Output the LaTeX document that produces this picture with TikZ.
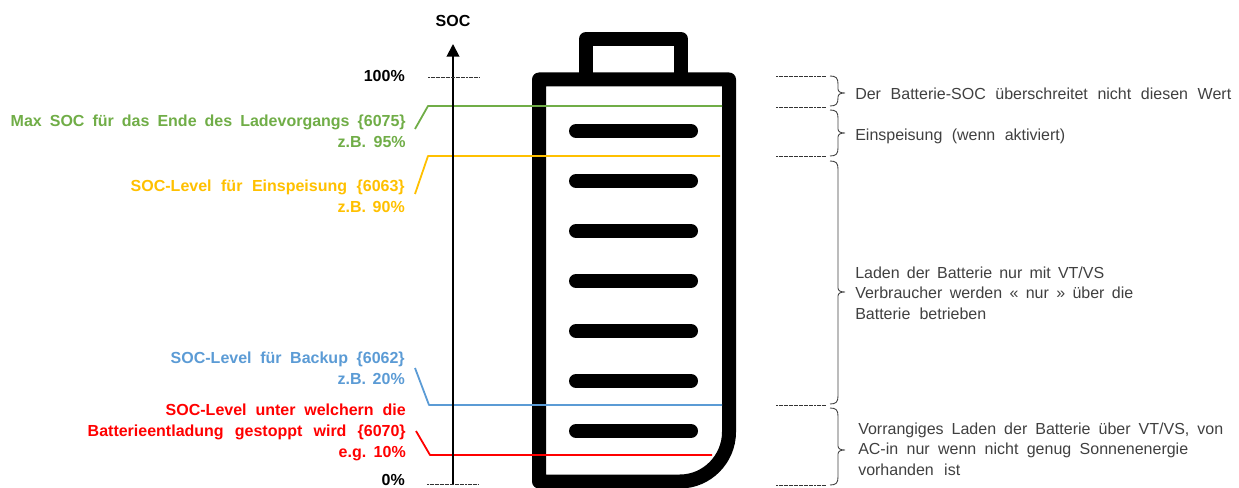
\documentclass[tikz,border=0pt]{standalone}
\usepackage{fontspec}
\setmainfont{Liberation Sans}
\usetikzlibrary{arrows.meta}
\definecolor{cgreen}{HTML}{70AD47}
\definecolor{corange}{HTML}{FFC000}
\definecolor{cblue}{HTML}{5B9BD5}
\definecolor{cred}{HTML}{FF0000}
\definecolor{ctext}{HTML}{404040}
\newcommand{\bracepath}[4]{% x, top, tip, bottom
  \draw[bracestyle] (#1,#2) .. controls (#1+6,#2) and (#1+8,#2+2) .. (#1+8,#2+8)
    -- (#1+8,#3-4) .. controls (#1+8,#3-1) and (#1+11,#3) .. (#1+15,#3)
    .. controls (#1+11,#3) and (#1+8,#3+1) .. (#1+8,#3+4)
    -- (#1+8,#4-8) .. controls (#1+8,#4-2) and (#1+6,#4) .. (#1,#4);}
% one line of text set to a measured width in reference pixels
\newcommand{\fl}[2]{\makebox[\dimexpr #1pt*3/4\relax][s]{\spaceskip=0.25em plus 1fil minus 0.1em #2}}
\tikzset{
  x=0.75pt,y=-0.75pt,
  wall/.style={line width=10.5pt,line join=round},
  cellbar/.style={line width=10.5pt,line cap=round},
  level/.style={line width=1.35pt,line join=round},
  guide/.style={dash pattern=on 1.5pt off 0.4pt,line width=0.6pt,black!80},
  bracestyle/.style={line width=0.65pt,black!75},
  leftlabel/.style={font=\fontsize{12}{15.6}\selectfont\bfseries,align=right,anchor=east,inner sep=0pt},
  rightlabel/.style={font=\fontsize{12}{15.3}\selectfont,text=ctext,align=left,anchor=west,inner sep=0pt},
  ticklabel/.style={font=\fontsize{12}{13}\selectfont\bfseries,anchor=east,inner sep=0pt},
}
\begin{document}
\begin{tikzpicture}
\useasboundingbox (0,0) rectangle (1239,488);
% battery
\draw[wall] (586,79.5) -- (586,39) -- (681,39) -- (681,79.5);
\draw[wall] (539,481.5) -- (539,79.5) -- (729,79.5) -- (729,432)
  .. controls (729,459) and (707,481.5) .. (680,481.5) -- cycle;
\foreach \y in {131,181,231,281,331,381,431}
  \draw[cellbar] (576,\y) -- (691,\y);
% coordinates
\coordinate (gA) at (415,129); \coordinate (gB) at (428,106); \coordinate (gC) at (722,106);
\coordinate (oA) at (415,194); \coordinate (oB) at (428,156); \coordinate (oC) at (720,156);
\coordinate (bA) at (415,368); \coordinate (bB) at (429,405); \coordinate (bC) at (722,405);
\coordinate (rA) at (416,431); \coordinate (rB) at (430,455); \coordinate (rC) at (712,455);
\coordinate (axisBottom) at (453,485); \coordinate (axisTop) at (453,44);
\draw[level,cgreen] (gA) -- (gB) -- (gC);
\draw[level,corange] (oA) -- (oB) -- (oC);
\draw[level,cblue] (bA) -- (bB) -- (bC);
\draw[level,cred] (rA) -- (rB) -- (rC);
% axis
\draw[line width=1.4pt,-{Triangle[length=9.5pt,width=9.5pt]}] (axisBottom) -- (axisTop);
\node[font=\fontsize{12}{13}\selectfont\bfseries,inner sep=0pt] (soc) at (453,21) {SOC};
% guides left
\coordinate (t1a) at (428,77.5); \coordinate (t1b) at (479,77.5);
\coordinate (t0a) at (427,484.5); \coordinate (t0b) at (478,484.5);
\draw[guide] (t1a) -- (t1b);
\draw[guide] (t0a) -- (t0b);
\node[ticklabel] (p100) at (405,76) {100\%};
\node[ticklabel] (p0) at (405,480) {0\%};
% guides right
\foreach \y/\n in {76.5/a,107/b,156.5/c,405/d,485/e}{
  \coordinate (r\n1) at (776,\y); \coordinate (r\n2) at (826,\y);
  \draw[guide] (r\n1) -- (r\n2);
}
% braces
\bracepath{830}{76}{93}{106}
\bracepath{830}{110}{133}{156}
\bracepath{830}{161}{292}{404}
\bracepath{830}{408}{450}{485}
% left labels
\node[leftlabel,text=cgreen] (lg) at (406,131) {\fl{395}{Max SOC für das Ende des Ladevorgangs \{6075\}}\\\fl{68}{z.B. 95\%}};
\node[leftlabel,text=corange] (lo) at (405,196) {\fl{274}{SOC-Level für Einspeisung \{6063\}}\\\fl{67}{z.B. 90\%}};
\node[leftlabel,text=cblue] (lb) at (405,368.5) {\fl{234}{SOC-Level für Backup \{6062\}}\\\fl{67}{z.B. 20\%}};
\node[leftlabel,text=cred] (lr) at (406,432.5) {\fl{240}{SOC-Level unter welchern die}\\\fl{318}{Batterieentladung gestoppt wird \{6070\}}\\\fl{67}{e.g. 10\%}};
% right labels
\node[rightlabel] (t1) at (855,94) {\fl{376}{Der Batterie-SOC überschreitet nicht diesen Wert}};
\node[rightlabel] (t2) at (855,136) {\fl{210}{Einspeisung (wenn aktiviert)}};
\node[rightlabel] (t3) at (855,293) {\fl{249}{Laden der Batterie nur mit VT/VS}\\\fl{278}{Verbraucher werden « nur » über die}\\\fl{131}{Batterie betrieben}};
\node[rightlabel] (t4) at (858,449) {\fl{365}{Vorrangiges Laden der Batterie über VT/VS, von}\\\fl{330}{AC-in nur wenn nicht genug Sonnenenergie}\\\fl{102}{vorhanden ist}};
\end{tikzpicture}
\end{document}
